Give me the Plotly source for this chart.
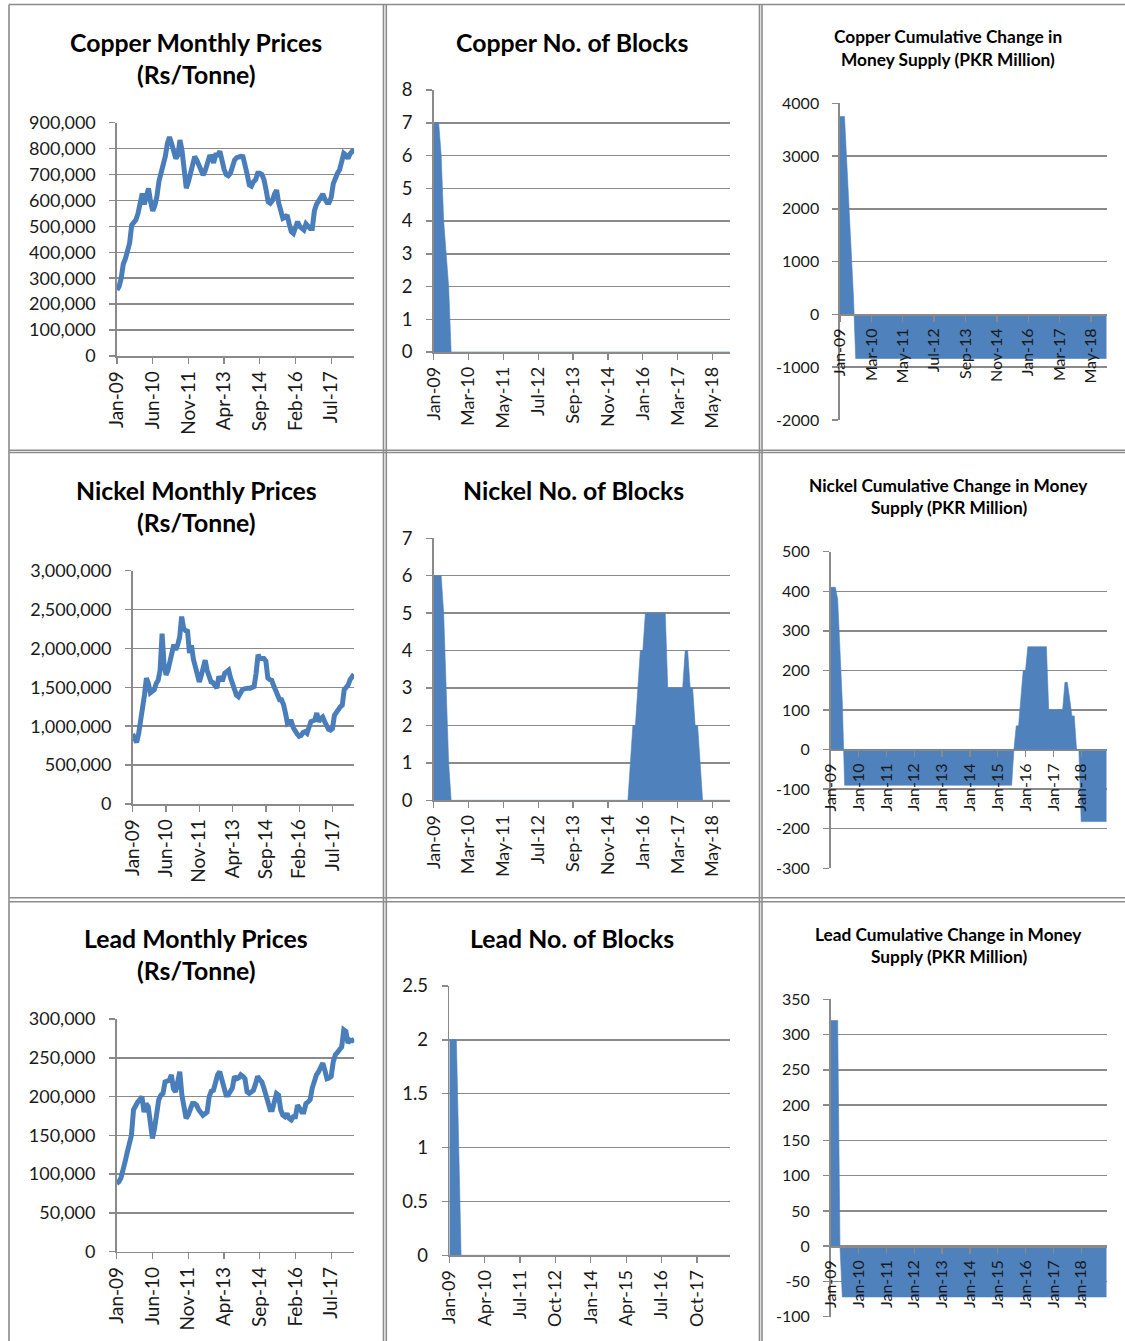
import plotly.graph_objects as go

W, H = 1125, 1341

# ---------------- categories & tick labels ----------------
MONTH_NAMES = ["Jan", "Feb", "Mar", "Apr", "May", "Jun", "Jul", "Aug", "Sep", "Oct", "Nov", "Dec"]
MONTHS = [f"{m}-{y:02d}" for y in range(9, 19) for m in MONTH_NAMES]   # Jan-09 .. Dec-18 (120)
PRICE_MONTHS = MONTHS[:114]                                           # Jan-09 .. Jun-18

PRICE_TICKS = ["Jan-09", "Jun-10", "Nov-11", "Apr-13", "Sep-14", "Feb-16", "Jul-17"]
BLOCK_TICKS = ["Jan-09", "Mar-10", "May-11", "Jul-12", "Sep-13", "Nov-14", "Jan-16", "Mar-17", "May-18"]
LEAD_BLOCK_TICKS = ["Jan-09", "Apr-10", "Jul-11", "Oct-12", "Jan-14", "Apr-15", "Jul-16", "Oct-17"]
YEAR_TICKS = ["Jan-09", "Jan-10", "Jan-11", "Jan-12", "Jan-13", "Jan-14", "Jan-15", "Jan-16", "Jan-17", "Jan-18"]

# ---------------- series values ----------------
COPPER_PRICE = [
    255000, 268000, 300000, 355000, 375000, 410000, 435000, 505000, 515000, 525000,
    550000, 600000, 627000, 585000, 620000, 647000, 595000, 560000, 580000, 615000,
    675000, 710000, 724000, 770000, 820000, 845000, 820000, 790000, 762000, 775000,
    833000, 790000, 700000, 647000, 672000, 700000, 745000, 769000, 756000, 735000,
    710000, 698000, 715000, 750000, 769000, 770000, 745000, 775000, 775000, 790000,
    750000, 720000, 700000, 695000, 705000, 740000, 756000, 765000, 769000, 770000,
    769000, 740000, 700000, 660000, 655000, 672000, 680000, 705000, 705000, 700000,
    680000, 640000, 595000, 589000, 600000, 625000, 640000, 590000, 550000, 531000,
    535000, 544000, 510000, 480000, 473000, 495000, 518000, 500000, 492000, 486000,
    510000, 500000, 492000, 492000, 560000, 585000, 598000, 620000, 625000, 605000,
    592000, 592000, 612000, 665000, 690000, 705000, 718000, 745000, 782000, 775000,
    762000, 780000, 790000, 790000]

NICKEL_PRICE = [
    900000, 850000, 790000, 900000, 1050000, 1290000, 1400000, 1620000, 1550000, 1430000,
    1450000, 1470000, 1550000, 1590000, 1720000, 2190000, 1800000, 1660000, 1720000, 1810000,
    1940000, 2050000, 1980000, 2050000, 2150000, 2410000, 2260000, 2230000, 2220000, 1940000,
    2040000, 1860000, 1750000, 1640000, 1570000, 1650000, 1770000, 1850000, 1720000, 1640000,
    1570000, 1560000, 1520000, 1490000, 1640000, 1600000, 1600000, 1680000, 1700000, 1720000,
    1620000, 1550000, 1450000, 1400000, 1380000, 1430000, 1470000, 1480000, 1490000, 1490000,
    1490000, 1500000, 1510000, 1680000, 1920000, 1870000, 1870000, 1870000, 1840000, 1620000,
    1600000, 1590000, 1520000, 1470000, 1400000, 1340000, 1340000, 1280000, 1170000, 1040000,
    1060000, 1060000, 980000, 930000, 900000, 870000, 880000, 920000, 930000, 910000,
    980000, 1060000, 1070000, 1080000, 1170000, 1060000, 1100000, 1120000, 1060000, 1000000,
    960000, 950000, 970000, 1140000, 1180000, 1210000, 1250000, 1270000, 1470000, 1500000,
    1530000, 1600000, 1640000, 1670000]

LEAD_PRICE = [
    88000, 90000, 95000, 110000, 116000, 128000, 140000, 150000, 183000, 189000,
    193000, 196000, 200000, 180000, 191000, 187000, 159000, 146000, 159000, 180000,
    196000, 202000, 204000, 219000, 220000, 221000, 228000, 210000, 206000, 219000,
    232000, 202000, 190000, 172000, 176000, 185000, 191000, 191000, 189000, 183000,
    178000, 176000, 178000, 180000, 200000, 207000, 208000, 221000, 228000, 232000,
    220000, 208000, 202000, 202000, 206000, 211000, 226000, 223000, 224000, 228000,
    226000, 223000, 206000, 204000, 206000, 208000, 216000, 226000, 222000, 219000,
    211000, 200000, 191000, 183000, 183000, 195000, 204000, 202000, 183000, 176000,
    174000, 178000, 172000, 170000, 174000, 174000, 189000, 185000, 180000, 180000,
    191000, 193000, 196000, 211000, 222000, 228000, 232000, 238000, 243000, 234000,
    223000, 224000, 226000, 245000, 254000, 257000, 260000, 264000, 286000, 284000,
    269000, 273000, 272000, 274000]

COPPER_BLOCKS = [
    7, 7, 7, 6, 4, 3, 2, 0, 0, 0, 0, 0, 0, 0, 0, 0, 0, 0, 0, 0,
    0, 0, 0, 0, 0, 0, 0, 0, 0, 0, 0, 0, 0, 0, 0, 0, 0, 0, 0, 0,
    0, 0, 0, 0, 0, 0, 0, 0, 0, 0, 0, 0, 0, 0, 0, 0, 0, 0, 0, 0,
    0, 0, 0, 0, 0, 0, 0, 0, 0, 0, 0, 0, 0, 0, 0, 0, 0, 0, 0, 0,
    0, 0, 0, 0, 0, 0, 0, 0, 0, 0, 0, 0, 0, 0, 0, 0, 0, 0, 0, 0,
    0, 0, 0, 0, 0, 0, 0, 0, 0, 0, 0, 0, 0, 0, 0, 0, 0, 0, 0, 0]

NICKEL_BLOCKS = [
    6, 6, 6, 6, 5, 3, 1, 0, 0, 0, 0, 0, 0, 0, 0, 0, 0, 0, 0, 0,
    0, 0, 0, 0, 0, 0, 0, 0, 0, 0, 0, 0, 0, 0, 0, 0, 0, 0, 0, 0,
    0, 0, 0, 0, 0, 0, 0, 0, 0, 0, 0, 0, 0, 0, 0, 0, 0, 0, 0, 0,
    0, 0, 0, 0, 0, 0, 0, 0, 0, 0, 0, 0, 0, 0, 0, 0, 0, 0, 0, 1,
    2, 2, 3, 4, 4, 5, 5, 5, 5, 5, 5, 5, 5, 5, 3, 3, 3, 3, 3, 3,
    3, 4, 4, 3, 3, 2, 2, 1, 0, 0, 0, 0, 0, 0, 0, 0, 0, 0, 0, 0]

LEAD_BLOCKS = [
    2, 2, 2, 2, 1, 0, 0, 0, 0, 0, 0, 0, 0, 0, 0, 0, 0, 0, 0, 0,
    0, 0, 0, 0, 0, 0, 0, 0, 0, 0, 0, 0, 0, 0, 0, 0, 0, 0, 0, 0,
    0, 0, 0, 0, 0, 0, 0, 0, 0, 0, 0, 0, 0, 0, 0, 0, 0, 0, 0, 0,
    0, 0, 0, 0, 0, 0, 0, 0, 0, 0, 0, 0, 0, 0, 0, 0, 0, 0, 0, 0,
    0, 0, 0, 0, 0, 0, 0, 0, 0, 0, 0, 0, 0, 0, 0, 0, 0, 0, 0, 0,
    0, 0, 0, 0, 0, 0, 0, 0, 0, 0, 0, 0, 0, 0, 0, 0, 0, 0, 0, 0]

COPPER_CUM = [
    3750, 3750, 3750, 2900, 2040, 1200, 340, -835, -835, -835, -835, -835, -835, -835, -835, -835, -835, -835, -835, -835,
    -835, -835, -835, -835, -835, -835, -835, -835, -835, -835, -835, -835, -835, -835, -835, -835, -835, -835, -835, -835,
    -835, -835, -835, -835, -835, -835, -835, -835, -835, -835, -835, -835, -835, -835, -835, -835, -835, -835, -835, -835,
    -835, -835, -835, -835, -835, -835, -835, -835, -835, -835, -835, -835, -835, -835, -835, -835, -835, -835, -835, -835,
    -835, -835, -835, -835, -835, -835, -835, -835, -835, -835, -835, -835, -835, -835, -835, -835, -835, -835, -835, -835,
    -835, -835, -835, -835, -835, -835, -835, -835, -835, -835, -835, -835, -835, -835, -835, -835, -835, -835, -835, -835]

NICKEL_CUM = [
    410, 410, 410, 380, 250, 120, -90, -90, -90, -90, -90, -90, -90, -90, -90, -90, -90, -90, -90, -90,
    -90, -90, -90, -90, -90, -90, -90, -90, -90, -90, -90, -90, -90, -90, -90, -90, -90, -90, -90, -90,
    -90, -90, -90, -90, -90, -90, -90, -90, -90, -90, -90, -90, -90, -90, -90, -90, -90, -90, -90, -90,
    -90, -90, -90, -90, -90, -90, -90, -90, -90, -90, -90, -90, -90, -90, -90, -90, -90, -90, -90, 0,
    60, 60, 130, 200, 200, 260, 260, 260, 260, 260, 260, 260, 260, 260, 100, 100, 100, 100, 100, 100,
    100, 170, 170, 130, 85, 85, 0, 0, -182, -182, -182, -182, -182, -182, -182, -182, -182, -182, -182, -182]

LEAD_CUM = [
    320, 320, 320, 320, 0, -72, -72, -72, -72, -72, -72, -72, -72, -72, -72, -72, -72, -72, -72, -72,
    -72, -72, -72, -72, -72, -72, -72, -72, -72, -72, -72, -72, -72, -72, -72, -72, -72, -72, -72, -72,
    -72, -72, -72, -72, -72, -72, -72, -72, -72, -72, -72, -72, -72, -72, -72, -72, -72, -72, -72, -72,
    -72, -72, -72, -72, -72, -72, -72, -72, -72, -72, -72, -72, -72, -72, -72, -72, -72, -72, -72, -72,
    -72, -72, -72, -72, -72, -72, -72, -72, -72, -72, -72, -72, -72, -72, -72, -72, -72, -72, -72, -72,
    -72, -72, -72, -72, -72, -72, -72, -72, -72, -72, -72, -72, -72, -72, -72, -72, -72, -72, -72, -72]

# y tick values / labels
COPPER_PRICE_YT = [0, 100000, 200000, 300000, 400000, 500000, 600000, 700000, 800000, 900000]
NICKEL_PRICE_YT = [0, 500000, 1000000, 1500000, 2000000, 2500000, 3000000]
LEAD_PRICE_YT = [0, 50000, 100000, 150000, 200000, 250000, 300000]
COPPER_BLOCK_YT = [0, 1, 2, 3, 4, 5, 6, 7, 8]
NICKEL_BLOCK_YT = [0, 1, 2, 3, 4, 5, 6, 7]
LEAD_BLOCK_YT = [0, 0.5, 1, 1.5, 2, 2.5]
LEAD_BLOCK_YL = ["0", "0.5", "1", "1.5", "2", "2.5"]
COPPER_CUM_YT = [-2000, -1000, 0, 1000, 2000, 3000, 4000]
COPPER_CUM_YL = ["-2000", "-1000", "0", "1000", "2000", "3000", "4000"]
NICKEL_CUM_YT = [-300, -200, -100, 0, 100, 200, 300, 400, 500]
NICKEL_CUM_YL = ["-300", "-200", "-100", "0", "100", "200", "300", "400", "500"]
LEAD_CUM_YT = [-100, -50, 0, 50, 100, 150, 200, 250, 300, 350]
LEAD_CUM_YL = ["-100", "-50", "0", "50", "100", "150", "200", "250", "300", "350"]

TITLES = [
    (["Copper Monthly Prices", "(Rs/Tonne)"], 196, [42, 75], 24.8),
    (["Copper No. of Blocks"], 572, [42], 24.8),
    (["Copper Cumulative Change in", "Money Supply (PKR Million)"], 948, [36.5, 59.5], 17.3),
    (["Nickel Monthly Prices", "(Rs/Tonne)"], 196, [490, 522.5], 24.8),
    (["Nickel No. of Blocks"], 573, [490], 24.8),
    (["Nickel Cumulative Change in Money", "Supply (PKR Million)"], 949, [485, 507.5], 17.3),
    (["Lead Monthly Prices", "(Rs/Tonne)"], 196, [938, 970.5], 24.8),
    (["Lead No. of Blocks"], 572, [938], 24.8),
    (["Lead Cumulative Change in Money", "Supply (PKR Million)"], 949, [934, 956], 17.3),
]

# ---------------- style ----------------
LINE_BLUE = "#4A7EBB"
FILL_BLUE = "#4F81BD"
GRID = "#8A8A8A"
FONT = "Lato"
TXT = "#1a1a1a"


def fx(x):
    return x / W


def fy(y):
    return 1 - y / H


PANELS = [
    dict(kind="line", x=PRICE_MONTHS, y=COPPER_PRICE, box=(117, 354.3, 122.7, 356), yr=[0, 900000],
         ytv=COPPER_PRICE_YT, ytl=None, xt=PRICE_TICKS, yfs=18, xfs=19),
    dict(kind="area", x=MONTHS, y=COPPER_BLOCKS, box=(433.7, 730, 90, 352), yr=[0, 8],
         ytv=COPPER_BLOCK_YT, ytl=None, xt=BLOCK_TICKS, yfs=18.5, xfs=18),
    dict(kind="area", x=MONTHS, y=COPPER_CUM, box=(840, 1106.7, 103.3, 420), yr=[-2000, 4000],
         ytv=COPPER_CUM_YT, ytl=COPPER_CUM_YL, xt=BLOCK_TICKS, yfs=16, xfs=16, zero=True),
    dict(kind="line", x=PRICE_MONTHS, y=NICKEL_PRICE, box=(132.7, 354, 570.7, 804), yr=[0, 3000000],
         ytv=NICKEL_PRICE_YT, ytl=None, xt=PRICE_TICKS, yfs=18, xfs=19),
    dict(kind="area", x=MONTHS, y=NICKEL_BLOCKS, box=(433.7, 730, 538.3, 800.3), yr=[0, 7],
         ytv=NICKEL_BLOCK_YT, ytl=None, xt=BLOCK_TICKS, yfs=18.5, xfs=18),
    dict(kind="area", x=MONTHS, y=NICKEL_CUM, box=(830.7, 1106.7, 551.7, 868.3), yr=[-300, 500],
         ytv=NICKEL_CUM_YT, ytl=NICKEL_CUM_YL, xt=YEAR_TICKS, yfs=16, xfs=16, zero=True),
    dict(kind="line", x=PRICE_MONTHS, y=LEAD_PRICE, box=(116.7, 354.3, 1019, 1251.7), yr=[0, 300000],
         ytv=LEAD_PRICE_YT, ytl=None, xt=PRICE_TICKS, yfs=18, xfs=19),
    dict(kind="area", x=MONTHS, y=LEAD_BLOCKS, box=(449.3, 730, 986, 1255.3), yr=[0, 2.5],
         ytv=LEAD_BLOCK_YT, ytl=LEAD_BLOCK_YL, xt=LEAD_BLOCK_TICKS, yfs=18.5, xfs=18),
    dict(kind="area", x=MONTHS, y=LEAD_CUM, box=(830.7, 1106.7, 999.3, 1316.7), yr=[-100, 350],
         ytv=LEAD_CUM_YT, ytl=LEAD_CUM_YL, xt=YEAR_TICKS, yfs=16, xfs=16, zero=True),
]

fig = go.Figure()
layout = dict(
    width=W, height=H, autosize=False,
    margin=dict(l=0, r=0, t=0, b=0, pad=0, autoexpand=False),
    paper_bgcolor="white", plot_bgcolor="rgba(0,0,0,0)",
    showlegend=False,
    font=dict(family=FONT, color=TXT),
)

for i, p in enumerate(PANELS, start=1):
    xa = "x" if i == 1 else f"x{i}"
    ya = "y" if i == 1 else f"y{i}"
    x0, x1, yt, yb = p["box"]
    if p["kind"] == "line":
        fig.add_trace(go.Scatter(x=p["x"], y=p["y"], mode="lines",
                                 line=dict(color=LINE_BLUE, width=5),
                                 xaxis=xa, yaxis=ya, hoverinfo="skip"))
    else:
        fig.add_trace(go.Scatter(x=p["x"], y=p["y"], mode="lines", fill="tozeroy",
                                 fillcolor=FILL_BLUE, line=dict(color=FILL_BLUE, width=0.6),
                                 xaxis=xa, yaxis=ya, hoverinfo="skip"))
    n = len(p["x"])
    xaxis = dict(
        type="category", domain=[fx(x0), fx(x1)], range=[0, n - 1],
        tickmode="array", tickvals=p["xt"], ticktext=p["xt"], tickangle=-90,
        ticks="outside", ticklen=6, tickwidth=1.3, tickcolor=GRID,
        showline=True, linecolor=GRID, linewidth=1.6,
        showgrid=False, zeroline=False, fixedrange=True, automargin=False,
        tickfont=dict(family=FONT, size=p["xfs"], color=TXT),
        ticklabelstandoff=0,
    )
    if p.get("zero"):
        r0, r1 = p["yr"]
        zero_px = yt + (r1 - 0) / (r1 - r0) * (yb - yt)
        xaxis.update(anchor="free", position=fy(zero_px))
    else:
        xaxis.update(anchor=ya)
    yaxis = dict(
        domain=[fy(yb), fy(yt)], range=p["yr"], anchor=xa,
        tickmode="array", tickvals=p["ytv"],
        ticks="outside", ticklen=6, tickwidth=1.5, tickcolor=GRID,
        showline=True, linecolor=GRID, linewidth=1.6,
        showgrid=True, gridcolor=GRID, gridwidth=1.5,
        zeroline=False, fixedrange=True, automargin=False,
        tickfont=dict(family=FONT, size=p["yfs"], color=TXT),
        ticklabelstandoff=10,
    )
    if p["ytl"] is not None:
        yaxis["ticktext"] = p["ytl"]
    elif p["kind"] == "line":
        yaxis["tickformat"] = ","
    layout["xaxis" if i == 1 else f"xaxis{i}"] = xaxis
    layout["yaxis" if i == 1 else f"yaxis{i}"] = yaxis

annotations = []
for lines, cx, cys, size in TITLES:
    for text, cy in zip(lines, cys):
        annotations.append(dict(
            text=f"<b>{text}</b>", x=fx(cx), y=fy(cy), xref="paper", yref="paper",
            xanchor="center", yanchor="middle", showarrow=False,
            font=dict(family=FONT, size=size, color="black")))
layout["annotations"] = annotations

BORDER = "#8C8C8C"
shapes = []
for xv in [9, 383.5, 386.3, 759.5, 762]:
    shapes.append(dict(type="line", xref="paper", yref="paper", x0=fx(xv), x1=fx(xv), y0=0, y1=fy(4.5),
                       line=dict(color=BORDER, width=1.6)))
for yv in [4.5, 450.3, 452.5, 897.8, 901.8]:
    shapes.append(dict(type="line", xref="paper", yref="paper", x0=fx(9), x1=1, y0=fy(yv), y1=fy(yv),
                       line=dict(color=BORDER, width=1.6)))
layout["shapes"] = shapes

fig.update_layout(**layout)

fig.write_html("out.html", config={"displayModeBar": False, "staticPlot": True},
               post_script="document.body.style.margin='0';document.body.style.overflow='hidden';")
